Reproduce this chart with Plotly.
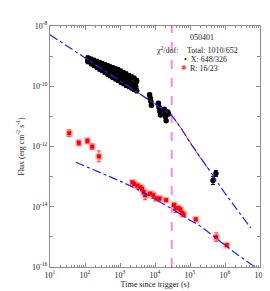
import numpy as np
import plotly.graph_objects as go

# ---------------- data ----------------
# X-ray (black) flux points: dense early clump (upper, middle and lower parts)
clump_time = [120, 150, 180, 220, 260, 310, 370, 440, 520, 620, 740, 880, 1050,
              1250, 1500, 1800, 2150, 2550, 3000]
clump_flux_high = [8.5e-10, 7.7e-10, 7.1e-10, 6.5e-10, 6.0e-10, 5.5e-10, 5.1e-10,
                   4.7e-10, 4.3e-10, 4.0e-10, 3.7e-10, 3.5e-10, 3.1e-10, 2.8e-10,
                   2.5e-10, 2.2e-10, 2.0e-10, 1.8e-10, 1.5e-10]
clump_flux_low = [6.7e-10, 5.7e-10, 5.0e-10, 4.3e-10, 3.8e-10, 3.4e-10, 3.0e-10,
                  2.6e-10, 2.3e-10, 2.0e-10, 1.8e-10, 1.6e-10, 1.4e-10, 1.25e-10,
                  1.1e-10, 1.0e-10, 9.0e-11, 8.0e-11, 7.2e-11]
mid_time = [130, 140, 160, 170, 195, 210, 240, 280, 330, 390, 460, 540, 580, 680,
            800, 940, 1100, 1300, 1400, 1620, 1900, 2400, 2800]
mid_flux = [8.0e-10, 7.4e-10, 6.6e-10, 6.5e-10, 5.8e-10, 5.6e-10, 5.0e-10,
            4.6e-10, 4.2e-10, 3.9e-10, 3.5e-10, 3.2e-10, 3.0e-10, 2.7e-10,
            2.5e-10, 2.2e-10, 2.0e-10, 1.8e-10, 1.7e-10, 1.5e-10, 1.35e-10,
            1.15e-10, 1.0e-10]
# later X-ray groups
late_time = [7000, 7300, 7600, 7900,
             12500, 13000, 13700, 14300,
             18500, 19300, 20000, 20800,
             23200, 24500,
             4.55e5, 5.5e5]
late_flux = [5.25e-11, 3.98e-11, 3.16e-11, 2.34e-11,
             2.75e-11, 2.04e-11, 1.51e-11, 1.12e-11,
             1.74e-11, 1.32e-11, 9.8e-12, 7.2e-12,
             1.41e-11, 1.2e-11,
             7.4e-14, 1.26e-13]
late_err_dex = [0.05] * 14 + [0.13, 0.10]
clump_err_dex = 0.08

# Optical R-band (red) flux points
r_time = [35.3, 66.4, 117, 160, 249,
          2270, 2530, 3110, 3840, 4270, 4750, 5260, 7210, 8940, 11000, 13550,
          20700, 34900, 38800, 47800, 53200, 59300, 65500, 146000, 560000, 1.12e6]
r_flux = [2.77e-12, 1.32e-12, 1.53e-12, 9.86e-13, 4.71e-13,
          6.43e-14, 5.66e-14, 5.03e-14, 4.44e-14, 3.92e-14, 3.07e-14, 2.41e-14,
          2.71e-14, 2.41e-14, 1.87e-14, 1.87e-14, 1.66e-14, 1.15e-14, 8.96e-15,
          8.96e-15, 7.96e-15, 6.19e-15, 5.5e-15, 3.8e-15, 9.8e-16, 5.3e-16]
r_err_dex = [0.11, 0.09, 0.09, 0.09, 0.18,
             0.06, 0.06, 0.06, 0.06, 0.06, 0.08, 0.15, 0.06, 0.10, 0.06, 0.06,
             0.05, 0.06, 0.14, 0.06, 0.06, 0.06, 0.06, 0.06, 0.14, 0.05]

# X-ray model curve
xm_time = [10, 100, 1000, 1e4, 2e4, 3.16e4, 5.6e4, 1e5, 1.66e5, 3.16e5, 1e6, 5.4e6]
xm_flux = [5.13e-9, 8.9e-10, 1.55e-10, 2.63e-11, 1.51e-11, 1.0e-11, 4.0e-12,
           1.35e-12, 5.6e-13, 2.0e-13, 2.8e-14, 2.0e-15]
# red (total) model portion
xt_time = [110, 1000, 1e4, 2e4, 3.16e4, 5.6e4, 1e5, 1.66e5, 3.5e5]
xt_flux = [7.9e-10, 1.55e-10, 2.63e-11, 1.51e-11, 1.0e-11, 4.0e-12, 1.35e-12,
           5.6e-13, 1.7e-13]

# Optical model curve
om_time = [55, 316, 1200, 4000, 1e4, 3.16e4, 1e5, 1.86e5, 3.16e5, 1e6, 2.34e6, 7.2e6]
om_flux = [3.0e-13, 1.26e-13, 6.5e-14, 3.3e-14, 1.82e-14, 8.3e-15, 3.55e-15,
           2.4e-15, 1.5e-15, 5.2e-16, 2.5e-16, 1.0e-16]

t_break = 3.0e4

x_ticks = [1, 2, 3, 4, 5, 6, 7]
y_ticks = [-16, -14, -12, -10, -8]

# ---------------- figure ----------------
FONT = "Liberation Serif, Times New Roman, serif"
fig = go.Figure()


def err_bars(flux, dex):
    up = [f * (10 ** e - 1) for f, e in zip(flux, dex)]
    dn = [f * (1 - 10 ** (-e)) for f, e in zip(flux, dex)]
    return up, dn


fig.add_trace(go.Scatter(x=[t_break, t_break], y=[1e-16, 1e-8], mode="lines",
                         line=dict(color="#f08cf0", width=2, dash="dash"),
                         hoverinfo="skip"))

fig.add_trace(go.Scatter(x=xt_time, y=xt_flux, mode="lines",
                         line=dict(color="#ff2020", width=1), hoverinfo="skip"))

for tt, ff, dd in [
    (clump_time, clump_flux_high, [clump_err_dex] * len(clump_time)),
    (clump_time, clump_flux_low, [clump_err_dex] * len(clump_time)),
    (mid_time, mid_flux, [clump_err_dex] * len(mid_time)),
    (late_time, late_flux, late_err_dex),
]:
    up, dn = err_bars(ff, dd)
    fig.add_trace(go.Scatter(x=tt, y=ff, mode="markers",
                             marker=dict(color="black", size=5.5, symbol="circle"),
                             error_y=dict(type="data", symmetric=False, array=up,
                                          arrayminus=dn, color="black",
                                          thickness=1, width=2)))

r_up, r_dn = err_bars(r_flux, r_err_dex)
fig.add_trace(go.Scatter(x=r_time, y=r_flux, mode="markers",
                         marker=dict(color="rgba(255,120,120,0.55)", size=7,
                                     symbol="square"),
                         error_y=dict(type="data", symmetric=False, array=r_up,
                                      arrayminus=r_dn, color="#ff3030",
                                      thickness=1, width=2)))
fig.add_trace(go.Scatter(x=r_time, y=r_flux, mode="markers",
                         marker=dict(color="#ff0000", size=4, symbol="square")))

fig.add_trace(go.Scatter(x=xm_time, y=xm_flux, mode="lines",
                         line=dict(color="#2020ff", width=1.2, dash="dashdot"),
                         hoverinfo="skip"))
fig.add_trace(go.Scatter(x=om_time, y=om_flux, mode="lines",
                         line=dict(color="#2020ff", width=1.2, dash="dashdot"),
                         hoverinfo="skip"))

axcol = "#8c8c8c"
x_minor = [m * 10 ** k for k in range(1, 7) for m in range(2, 10)]
y_minor = [10.0 ** k for k in range(-15, -8, 2)]

fig.update_xaxes(type="log", range=[1, 7], showgrid=False, zeroline=False,
                 showline=True, linecolor=axcol, linewidth=1, mirror="ticks",
                 ticks="inside", ticklen=4, tickcolor=axcol,
                 tickvals=[10 ** k for k in x_ticks],
                 ticktext=[f"10<sup>{k}</sup>" for k in x_ticks],
                 tickfont=dict(family=FONT, size=8, color="#222"),
                 minor=dict(ticks="inside", ticklen=2, tickcolor=axcol,
                            tickvals=x_minor, showgrid=False),
                 title=dict(text="Time since trigger (s)", standoff=2,
                            font=dict(family=FONT, size=8, color="#222")))
fig.update_yaxes(type="log", range=[-16, -8], showgrid=False, zeroline=False,
                 showline=True, linecolor=axcol, linewidth=1, mirror="ticks",
                 ticks="inside", ticklen=4, tickcolor=axcol,
                 tickvals=[10.0 ** k for k in y_ticks],
                 ticktext=[f"10<sup>{k}</sup>" for k in y_ticks],
                 tickfont=dict(family=FONT, size=8, color="#222"),
                 minor=dict(ticks="inside", ticklen=3, tickcolor=axcol,
                            tickvals=y_minor, showgrid=False),
                 title=dict(text="Flux (erg cm<sup>-2</sup> s<sup>-1</sup>)",
                            standoff=6,
                            font=dict(family=FONT, size=8, color="#222")))

ann_font = dict(family=FONT, size=8, color="#222")
# plot area: x 39..258, y 13..263


def px(x):
    return (x - 39) / 219.0


def py(y):
    return 1 - (y - 13) / 250.0


anns = [
    dict(text="050401", x=px(198), y=py(25), xanchor="center"),
    dict(text="χ<sup>2</sup>/dof:", x=px(147), y=py(38), xanchor="left"),
    dict(text="Total: 1010/652", x=px(180), y=py(38), xanchor="left"),
    dict(text="•  X: 648/326", x=px(177), y=py(48), xanchor="left"),
    dict(text="R: 16/23", x=px(183), y=py(57), xanchor="left"),
]
for a in anns:
    fig.add_annotation(xref="paper", yref="paper", yanchor="middle",
                       showarrow=False, font=ann_font, **a)
fig.add_annotation(xref="paper", yref="paper", x=px(179), y=py(57),
                   text="✱", showarrow=False, xanchor="center", yanchor="middle",
                   font=dict(family="DejaVu Sans", size=7, color="#ff4040"))

fig.update_layout(width=270, height=291, showlegend=False,
                  margin=dict(l=39, r=12, t=13, b=28),
                  paper_bgcolor="white", plot_bgcolor="white",
                  font=dict(family=FONT))

fig.write_html("out.html")
